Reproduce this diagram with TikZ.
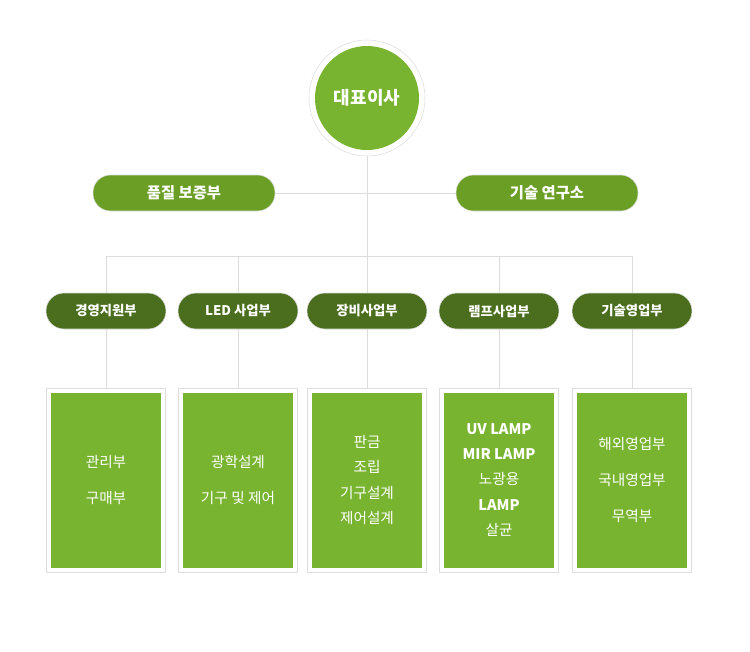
\documentclass[tikz,border=0pt]{standalone}
\usepackage{fontspec}
\setmainfont{Noto Sans CJK KR}
\newfontfamily\kr{Noto Sans CJK KR}
\begin{document}
\definecolor{lg}{HTML}{78B430}
\definecolor{mg}{HTML}{6A9E25}
\definecolor{dg}{HTML}{4A6E1E}
\definecolor{ln}{HTML}{DDDDDD}
\begin{tikzpicture}[x=0.75pt,y=-0.75pt,
 txt/.style={text=white,font=\kr\bfseries},
 pillA/.style={txt,fill=mg,draw=ln,rounded corners=17.5*0.75pt,minimum width=182*0.75pt,minimum height=36*0.75pt,font=\kr\bfseries\fontsize{11.5}{13}\selectfont},
 pillB/.style={txt,fill=dg,draw=ln,rounded corners=18*0.75pt,minimum width=120*0.75pt,minimum height=36*0.75pt,font=\kr\bfseries\fontsize{10}{12}\selectfont},
 box/.style={txt,fill=lg,draw=white,line width=0pt,minimum width=111*0.75pt,minimum height=176*0.75pt,align=center,font=\kr\fontsize{11}{19}\selectfont},
 frame/.style={draw=ln,fill=white,minimum width=119*0.75pt,minimum height=184*0.75pt},
 con/.style={draw=ln,line width=0.6pt}]
\useasboundingbox (0,0) rectangle (750,651);
\coordinate (hub) at (367,256);
\coordinate (hl) at (106,256);
\coordinate (hr) at (632,256);
\draw[con] (367,98) -- (hub);
\draw[con] (hl) -- (hr);
\node[circle,draw=ln,fill=white,minimum size=116*0.75pt] (ring) at (367,98) {};
\node[circle,fill=lg,minimum size=104*0.75pt,txt,font=\kr\bfseries\fontsize{13.5}{15}\selectfont] (ceo) at (367,98) {대표이사};
\node[pillA] (qa) at (184,193) {품질 보증부};
\node[pillA] (rd) at (547,193) {기술 연구소};
\draw[con] (qa) -- (rd);
\draw[con] (qa) -- (rd);
\foreach \n/\x/\t/\b in {a/106/경영지원부/{관리부\\[8pt]구매부},
 b/238/LED 사업부/{광학설계\\[8pt]기구 및 제어},
 c/367/장비사업부/{판금\\조립\\기구설계\\제어설계},
 d/499/램프사업부/{\bfseries UV LAMP\\\bfseries MIR LAMP\\노광용\\\bfseries LAMP\\살균},
 e/632/기술영업부/{해외영업부\\[8pt]국내영업부\\[8pt]무역부}}{
 \coordinate (t\n) at (\x,256);
 \node[frame] (f\n) at (\x,480) {};
 \draw[con] (t\n) -- (f\n.north);
 \node[pillB] (p\n) at (\x,311) {\t};
 \node[box] (b\n) at (\x,480) {\b};
}
\end{tikzpicture}
\end{document}
